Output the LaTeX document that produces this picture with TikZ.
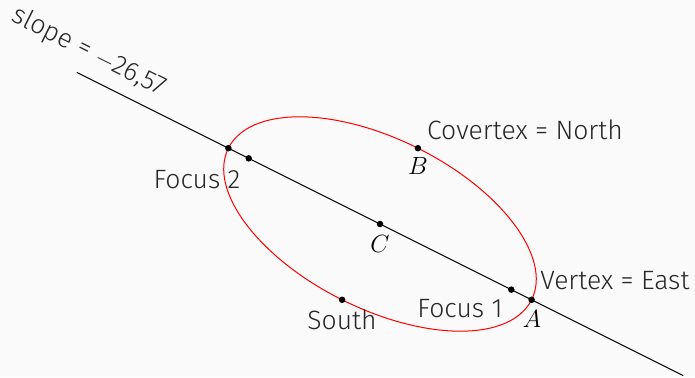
\documentclass[tikz,border=0pt]{standalone}
\usepackage{fontspec}
\setmainfont{Fira Sans Light}
\usetikzlibrary{calc}
\begin{document}
\begin{tikzpicture}[x=1pt,y=1pt,
  lbl/.style={font=\fontsize{26.5}{30}\selectfont, text=black!85, inner sep=0pt},
  mlbl/.style={font=\fontsize{27}{30}\selectfont, inner sep=0pt},
  dot/.style={circle, fill=black, inner sep=0pt, minimum size=6.5pt}]
\fill[black!2] (0,0) rectangle (695,377);
\useasboundingbox (0,0) rectangle (695,377);
\def\ang{-26.565}
\def\ra{169.5}
\def\rb{84.75}
\def\rc{146.8}
\coordinate (C) at (380,153);
\coordinate (A) at ($(C)+(\ang:\ra)$);
\coordinate (A2) at ($(C)+(\ang+180:\ra)$);
\coordinate (F1) at ($(C)+(\ang:\rc)$);
\coordinate (F2) at ($(C)+(\ang+180:\rc)$);
\coordinate (B) at ($(C)+(\ang+90:\rb)$);
\coordinate (S) at ($(C)+(\ang-90:\rb)$);
\coordinate (L1) at ($(C)+(\ang+180:2*\ra)$);
\coordinate (L2) at ($(C)+(\ang:2*\ra)$);
\begin{scope}
\clip (0,0) rectangle (695,377);
\draw[line width=1pt] (L1) -- (L2);
\end{scope}
\draw[red, line width=1pt, rotate around={\ang:(C)}] (C) ellipse ({\ra} and {\rb});
\foreach \p in {C,A,A2,F1,F2,B,S} \node[dot] (d\p) at (\p) {};
\node[lbl, rotate=\ang] (slope) at (89,325) {slope = $-$26,57};
\node[lbl] (cov) at (525,247) {Covertex = North};
\node[lbl] (ver) at (615,96) {Vertex = East};
\node[lbl] (f2) at (197,197) {Focus 2};
\node[lbl] (f1) at (460,68) {Focus 1};
\node[lbl] (south) at (342,57) {South};
\node[mlbl] (lb) at (418,211) {$B$};
\node[mlbl] (lc) at (380,133) {$C$};
\node[mlbl] (la) at (532,58) {$A$};
\end{tikzpicture}
\end{document}
